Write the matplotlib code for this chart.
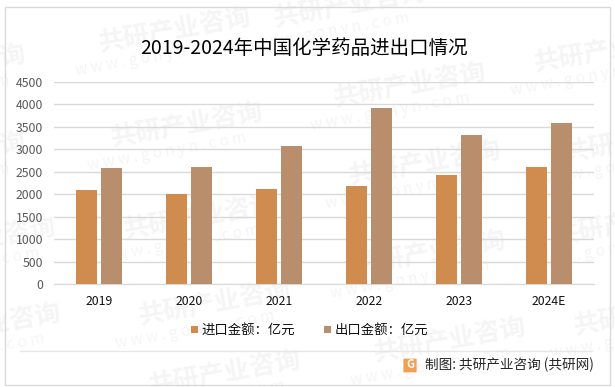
import matplotlib
matplotlib.use('Agg')
import matplotlib.pyplot as plt
from matplotlib.lines import Line2D
from matplotlib.patches import Rectangle, FancyBboxPatch

plt.rcParams['font.family'] = ['Noto Sans CJK SC', 'DejaVu Sans']

# data
years = ['2019', '2020', '2021', '2022', '2023', '2024E']
imports = [2095, 2010, 2120, 2185, 2430, 2610]
exports = [2590, 2610, 3075, 3925, 3320, 3590]
yticks = [0, 500, 1000, 1500, 2000, 2500, 3000, 3500, 4000, 4500]

W, H = 615, 387
ORANGE = '#D08C4E'
BROWN = '#B98E6D'
GRID = '#D9D9D9'
MARK = '#F5F5F5'

fig = plt.figure(figsize=(W / 100, H / 100), dpi=100, facecolor='white')


def px(x, y):
    # pixel position from top left -> figure fraction
    return x / W, 1 - y / H


# outer frame
fig.add_artist(Rectangle(px(4.5, 384.5), 605 / W, 378 / H, transform=fig.transFigure,
                         fill=False, ec='#D9D9D9', lw=1))

# watermarks (centre of the big text)
marks = [(175, 30), (187, 125), (410, 85), (425, 163), (215, 303), (200, 217),
         (430, 253), (450, 340), (225, 373), (-15, 326), (-20, 240), (-50, 67),
         (-50, 155), (610, 50), (640, 140), (650, 313), (630, 223), (350, 5)]
for mx, my in marks:
    fx, fy = px(mx, my)
    fig.text(fx, fy, '共研产业咨询', fontsize=18.5, fontweight='bold', color=MARK,
             rotation=10, ha='center', va='center', zorder=0)
    fx, fy = px(mx - 20, my + 27)
    fig.text(fx, fy, 'w w w . g o n y n . c o m', fontsize=11, color=MARK,
             rotation=10, ha='center', va='center', zorder=0)

ax = fig.add_axes([54 / W, 1 - 284 / H, 540 / W, 202 / H])
ax.patch.set_alpha(0)
ax.set_zorder(2)

x = range(len(years))
w = 0.228
gap = 0.05
ax.bar([i - (w + gap) / 2 for i in x], imports, w, color=ORANGE, zorder=3)
ax.bar([i + (w + gap) / 2 for i in x], exports, w, color=BROWN, zorder=3)

ax.set_xlim(-0.5, 5.5)
ax.set_ylim(0, 4500)
ax.set_yticks(yticks)
ax.set_xticks(list(x))
ax.set_xticklabels(years)
ax.tick_params(axis='y', length=0, pad=8, labelsize=8.8, labelcolor='#595959')
ax.tick_params(axis='x', length=0, pad=8, labelsize=8.8, labelcolor='#111111')
ax.grid(axis='y', color=GRID, lw=1, zorder=0)
for s in ['top', 'right', 'left']:
    ax.spines[s].set_visible(False)
ax.spines['bottom'].set_color(GRID)

fx, fy = px(304, 49)
fig.text(fx, fy, '2019-2024年中国化学药品进出口情况', fontsize=14, color='black',
         ha='center', va='center', zorder=5)

# legend
fig.add_artist(Rectangle(px(191, 333), 7 / W, 7 / H, transform=fig.transFigure, fc=ORANGE, ec='none', zorder=5))
fx, fy = px(201, 330)
fig.text(fx, fy, '进口金额：亿元', fontsize=9.6, color='#111111', ha='left', va='center', zorder=5)
fig.add_artist(Rectangle(px(324, 333), 7 / W, 7 / H, transform=fig.transFigure, fc=BROWN, ec='none', zorder=5))
fx, fy = px(335, 330)
fig.text(fx, fy, '出口金额：亿元', fontsize=9.6, color='#111111', ha='left', va='center', zorder=5)

# source strip
fig.add_artist(Line2D([20 / W, 592 / W], [1 - 350.5 / H] * 2, transform=fig.transFigure,
                      color='#E6E6E6', lw=1, zorder=5))
fig.add_artist(FancyBboxPatch(px(404, 372), 12 / W, 13 / H, transform=fig.transFigure,
                              boxstyle='round,pad=0.001', fc='#F0A050', ec='none', zorder=5))
fx, fy = px(410, 365)
fig.text(fx, fy, 'G', fontsize=8, fontweight='bold', color='white', ha='center', va='center', zorder=6)
fx, fy = px(425, 365)
fig.text(fx, fy, '制图: 共研产业咨询 (共研网)', fontsize=9.8, color='#262626', ha='left', va='center', zorder=5)

fig.savefig('out.png', dpi=100)
